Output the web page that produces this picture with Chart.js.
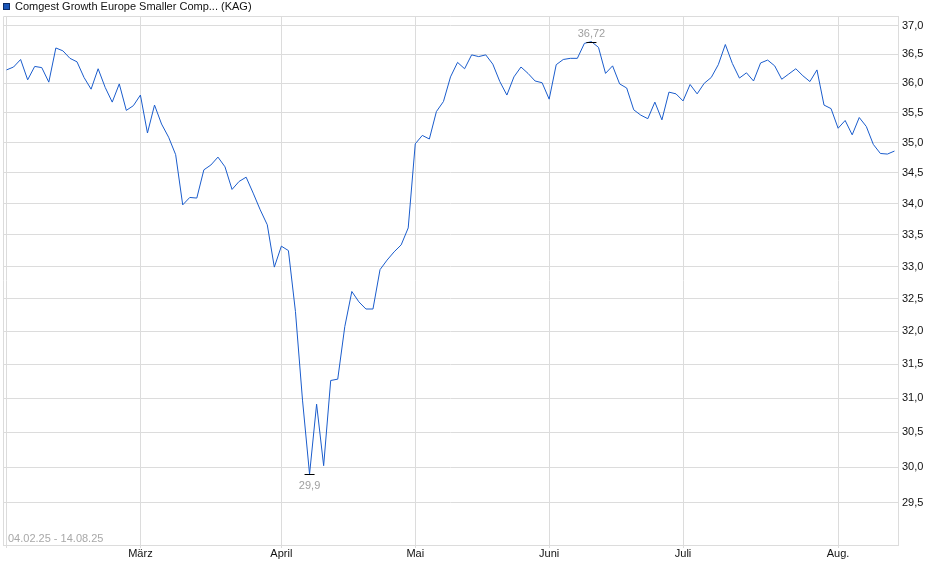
<!DOCTYPE html>
<html>
<head>
<meta charset="utf-8">
<script src="https://cdn.jsdelivr.net/npm/chart.js@4"></script>
<style>
  html, body { margin: 0; padding: 0; background: #fff; }
  #wrap { width: 940px; height: 579px; position: relative; }
</style>
</head>
<body>
<div id="wrap"><canvas id="myChart"></canvas></div>
<script>
const fundName = "Comgest Growth Europe Smaller Comp... (KAG)";
const period = "04.02.25 - 14.08.25";

// month names and index of the first price in each month
const monthNames = ["Feb.", "März", "April", "Mai", "Juni", "Juli", "Aug."];
const monthStarts = [0, 19, 39, 58, 77, 96, 118];

// daily prices, 04.02.25 - 14.08.25
const prices = [
  36.23, 36.28, 36.41, 36.06, 36.29, 36.27, 36.02, 36.61, 36.56, 36.43,
  36.37, 36.10, 35.90, 36.25, 35.93, 35.68, 35.99, 35.54, 35.62, 35.80,
  35.16, 35.63, 35.31, 35.09, 34.80, 33.98, 34.10, 34.09, 34.55, 34.63,
  34.76, 34.60, 34.23, 34.36, 34.43, 34.17, 33.90, 33.66, 32.99, 33.32,
  33.25, 32.30, 30.97, 29.90, 30.91, 30.02, 31.26, 31.28, 32.07, 32.61,
  32.45, 32.34, 32.34, 32.95, 33.10, 33.23, 33.34, 33.61, 34.98, 35.12,
  35.06, 35.52, 35.69, 36.11, 36.36, 36.25, 36.49, 36.46, 36.49, 36.33,
  36.03, 35.80, 36.11, 36.28, 36.17, 36.04, 36.01, 35.73, 36.32, 36.41,
  36.43, 36.43, 36.69, 36.72, 36.62, 36.17, 36.30, 35.99, 35.92, 35.55,
  35.46, 35.40, 35.68, 35.38, 35.85, 35.82, 35.70, 35.98, 35.82, 36.00,
  36.10, 36.32, 36.67, 36.34, 36.09, 36.18, 36.04, 36.35, 36.40, 36.30,
  36.07, 36.16, 36.25, 36.13, 36.03, 36.23, 35.63, 35.57, 35.24, 35.37,
  35.13, 35.42, 35.27, 34.97, 34.82, 34.81, 34.86
];

const yTicks = [29.5, 30, 30.5, 31, 31.5, 32, 32.5, 33, 33.5, 34, 34.5, 35, 35.5, 36, 36.5, 37];

const labels = prices.map((p, i) => {
  let m = 0;
  while (m + 1 < monthStarts.length && monthStarts[m + 1] <= i) m++;
  return monthNames[m];
});

const fontFamily = '"Liberation Sans", Arial, sans-serif';
Chart.defaults.font.family = fontFamily;
Chart.defaults.font.size = 11;

const gridColor = "#dcdcdc";
const deNum = v => String(v).replace(".", ",");

const extras = {
  id: "extras",
  beforeDatasetsDraw(chart) {
    const { ctx, chartArea: a } = chart;
    ctx.save();
    ctx.strokeStyle = gridColor;
    ctx.lineWidth = 1;
    ctx.beginPath();
    ctx.moveTo(a.left + 0.5, a.bottom);
    ctx.lineTo(a.left + 0.5, a.top + 0.5);
    ctx.lineTo(a.right, a.top + 0.5);
    ctx.stroke();
    ctx.fillStyle = "#a8a8a8";
    ctx.font = "11px " + fontFamily;
    ctx.textBaseline = "middle";
    ctx.textAlign = "left";
    ctx.fillText(period, a.left + 5, a.bottom - 6);
    ctx.restore();
  },
  afterDatasetsDraw(chart) {
    const { ctx } = chart;
    const xs = chart.scales.x, ys = chart.scales.y;
    const hi = prices.indexOf(Math.max(...prices));
    const lo = prices.indexOf(Math.min(...prices));
    ctx.save();
    ctx.strokeStyle = "#000";
    ctx.lineWidth = 1;
    ctx.font = "11px " + fontFamily;
    ctx.fillStyle = "#a0a0a0";
    ctx.textAlign = "center";
    ctx.textBaseline = "middle";
    [[hi, -9], [lo, 11]].forEach(([i, dy]) => {
      const x = xs.getPixelForValue(i);
      const y = Math.round(ys.getPixelForValue(prices[i])) + 0.5;
      ctx.beginPath();
      ctx.moveTo(x - 5, y);
      ctx.lineTo(x + 5, y);
      ctx.stroke();
      ctx.fillText(deNum(prices[i]), x, y + dy);
    });
    ctx.restore();
  },
  afterDraw(chart) {
    const { ctx } = chart;
    ctx.save();
    ctx.fillStyle = "#1a56b8";
    ctx.fillRect(3, 3, 7, 7);
    ctx.strokeStyle = "#0d2c66";
    ctx.lineWidth = 1;
    ctx.strokeRect(3.5, 3.5, 6, 6);
    ctx.fillStyle = "#111";
    ctx.font = "11px " + fontFamily;
    ctx.textBaseline = "middle";
    ctx.fillText(fundName, 15, 7);
    ctx.restore();
  }
};

new Chart(document.getElementById("myChart"), {
  type: "line",
  data: {
    labels: labels,
    datasets: [{
      label: fundName,
      data: prices,
      borderColor: "#1a5ccc",
      borderWidth: 1,
      pointRadius: 0,
      tension: 0,
      fill: false
    }]
  },
  options: {
    responsive: true,
    maintainAspectRatio: false,
    animation: false,
    layout: { padding: { top: 16, left: 3, right: 0, bottom: 0 } },
    plugins: { legend: { display: false }, tooltip: { enabled: false } },
    scales: {
      x: {
        type: "category",
        offset: true,
        grid: {
          offset: false,
          color: c => monthStarts.includes(c.index) ? gridColor : "rgba(0,0,0,0)",
          drawTicks: true,
          tickLength: 3
        },
        border: { color: gridColor },
        ticks: {
          autoSkip: false,
          maxRotation: 0,
          padding: -1,
          color: "#111",
          callback: (v, i) => (i > 0 && monthStarts.includes(i)) ? monthNames[monthStarts.indexOf(i)] : ""
        },
        afterFit: s => { s.height = 34; }
      },
      y: {
        type: "logarithmic",
        position: "right",
        min: 28.91,
        max: 37.17,
        afterBuildTicks: s => { s.ticks = yTicks.map(v => ({ value: v })); },
        grid: { color: gridColor, drawTicks: false },
        border: { color: gridColor },
        ticks: {
          padding: 4,
          color: "#111",
          callback: v => v.toFixed(1).replace(".", ",")
        },
        afterFit: s => { s.width = 42; }
      }
    }
  },
  plugins: [extras]
});
</script>
</body>
</html>
